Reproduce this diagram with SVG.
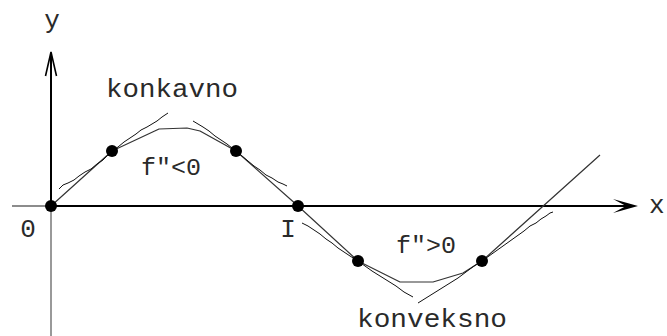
<svg xmlns="http://www.w3.org/2000/svg" width="667" height="336" viewBox="0 0 667 336">
  <style>
    .t { font-family: "Liberation Mono", "DejaVu Sans Mono", monospace; fill: #2a2a2a; }
    .big { font-size: 26px; }
    .mid { font-size: 24px; }
    .curve { fill: none; stroke: #333; stroke-width: 1.2; stroke-linejoin: round; }
    .tan { fill: none; stroke: #111; stroke-width: 1; stroke-linejoin: round; }
    .dot { fill: #000; }
  </style>
  <rect width="667" height="336" fill="#fff"/>
  <g id="axes">
    <line x1="12" y1="206" x2="51" y2="206" stroke="#666" stroke-width="1.5"/>
    <line x1="51" y1="206" x2="630" y2="206" stroke="#000" stroke-width="2"/>
    <polygon points="638,206 613,199 626,206 613,213" fill="#000"/>
    <line x1="51" y1="206" x2="51" y2="336" stroke="#777" stroke-width="1.5"/>
    <line x1="51" y1="206" x2="51" y2="53" stroke="#000" stroke-width="2"/>
    <polyline points="45.5,76 51,52 56.5,76" fill="none" stroke="#000" stroke-width="1.6"/>
  </g>
  <g id="curve">
    <polyline class="curve" points="51,206 112,151 159,129 187,128 200,131 236,151 298,206 358,261 380,272 400,282 433,282 463,273 482,261 600,155"/>
  </g>
  <g id="tangents">
    <polyline class="tan" points="59,189 63,185 68,183 74,180 79,176 85,172 91,169 97,164 103,160 108,155 112,151 118,147 124,142 130,138 136,134 141,130 147,127 152,124 157,121 162,117 168,113"/>
    <polyline class="tan" points="193,121 198,124 203,127 209,131 215,136 221,140 227,144 232,148 236,151 242,156 248,161 254,166 260,170 266,175 272,178 278,182 283,184 287,186"/>
    <polyline class="tan" points="302,223 308,226 314,230 320,234 326,239 332,243 338,248 344,252 350,256 358,261 365,266 372,271 380,276 388,281 396,286 404,292 413,297"/>
    <polyline class="tan" points="418,303 426,298 434,293 442,288 450,283 458,278 466,272 474,266 482,261 489,256 496,251 503,246 510,241 517,236 524,231 530,226 536,223 541,219 546,216 550,213 553,212"/>
  </g>
  <g id="points">
    <circle id="p0" class="dot" cx="51" cy="206" r="6"/>
    <circle id="p1" class="dot" cx="112" cy="151" r="6"/>
    <circle id="p2" class="dot" cx="236" cy="151" r="6"/>
    <circle id="p3" class="dot" cx="298" cy="206" r="6"/>
    <circle id="p4" class="dot" cx="358" cy="261" r="6"/>
    <circle id="p5" class="dot" cx="482" cy="261" r="6"/>
  </g>
  <g id="labels">
    <text class="t big" x="52" y="28" text-anchor="middle">y</text>
    <text class="t big" x="649" y="213">x</text>
    <text class="t big" x="106" y="97" textLength="132" lengthAdjust="spacingAndGlyphs">konkavno</text>
    <text class="t big" x="357" y="327" textLength="150" lengthAdjust="spacingAndGlyphs">konveksno</text>
    <text class="t mid" x="141" y="175" textLength="60" lengthAdjust="spacingAndGlyphs">f″&lt;0</text>
    <text class="t mid" x="396" y="253" textLength="60" lengthAdjust="spacingAndGlyphs">f″&gt;0</text>
    <text class="t big" x="28" y="237" text-anchor="middle">0</text>
    <text class="t big" x="288" y="237" text-anchor="middle">I</text>
  </g>
</svg>
